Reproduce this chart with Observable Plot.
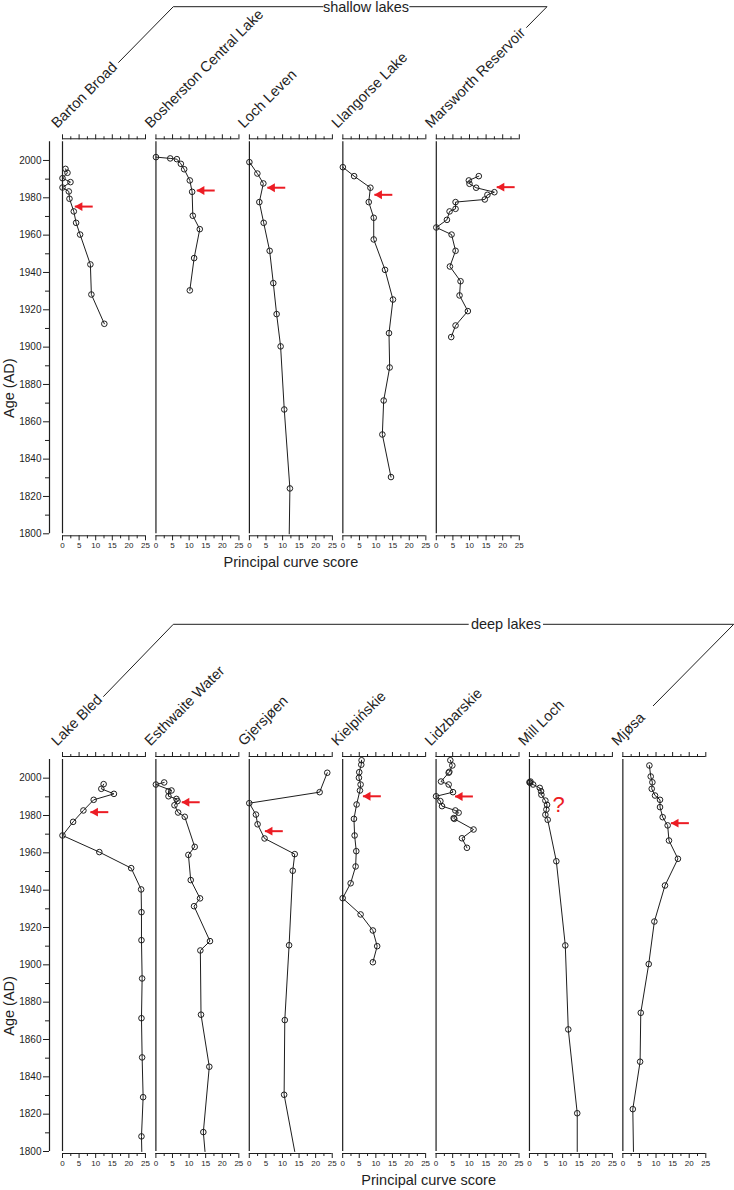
<!DOCTYPE html>
<html>
<head>
<meta charset="utf-8">
<script src="https://cdn.jsdelivr.net/npm/d3@7"></script>
<script src="https://cdn.jsdelivr.net/npm/@observablehq/plot@0.6"></script>
<style>
  html, body { margin: 0; padding: 0; background: #fff; }
  #wrap { width: 734px; height: 1190px; position: relative; font-family: "Liberation Sans", Arial, sans-serif; }
  #wrap svg { display: block; }
</style>
</head>
<body>
<div id="wrap"></div>
<script>
// ---------- categories ----------
const shallowLakes = ["Barton Broad", "Bosherston Central Lake", "Loch Leven", "Llangorse Lake", "Marsworth Reservoir"];
const deepLakes = ["Lake Bled", "Esthwaite Water", "Gjersjøen", "Kielpińskie", "Lidzbarskie", "Mill Loch", "Mjøsa"];

// ---------- tick values ----------
const scoreTicks = [0, 5, 10, 15, 20, 25];
const scoreMinorTicks = [2.5, 7.5, 12.5, 17.5, 22.5];
const ageTicks = [1800, 1820, 1840, 1860, 1880, 1900, 1920, 1940, 1960, 1980, 2000];
const ageMinorTicks = [1810, 1830, 1850, 1870, 1890, 1910, 1930, 1950, 1970, 1990];

// ---------- shallow lakes ----------
const bartonYear  = [1995.5, 1993.4, 1990.5, 1988.4, 1985.5, 1983.4, 1979.5, 1972.7, 1966.6, 1960.3, 1944.3, 1928.2, 1912.5];
const bartonScore = [0.9, 1.5, 0.0, 2.4, 0.0, 1.9, 2.1, 3.4, 4.1, 5.3, 8.4, 8.7, 12.6];

const boshYear  = [2001.8, 2001.1, 2000.7, 1998.2, 1995.3, 1989.3, 1983.2, 1970.4, 1963.2, 1947.7, 1930.4];
const boshScore = [0.0, 4.3, 6.3, 7.5, 8.5, 10.2, 10.9, 11.1, 13.2, 11.5, 10.2];

const levenYear  = [1999.1, 1993.0, 1987.7, 1977.7, 1966.6, 1951.6, 1934.3, 1917.7, 1900.4, 1866.6, 1824.3];
const levenScore = [0.0, 2.4, 4.2, 3.0, 4.3, 6.1, 7.2, 8.2, 9.4, 10.5, 12.2];

const llangorseYear  = [1996.4, 1991.6, 1985.4, 1977.7, 1969.3, 1957.7, 1941.4, 1925.5, 1907.5, 1889.1, 1871.4, 1853.2, 1830.4];
const llangorseScore = [0.0, 3.4, 8.3, 7.8, 9.3, 9.3, 12.7, 15.1, 13.9, 14.1, 12.3, 11.9, 14.5];

const marsworthYear  = [1991.6, 1989.3, 1987.5, 1985.4, 1983.0, 1981.6, 1979.1, 1977.7, 1974.1, 1972.7, 1968.2, 1964.1, 1960.3, 1951.6, 1943.2, 1935.3, 1927.7, 1919.3, 1911.6, 1905.4];
const marsworthScore = [12.8, 9.8, 10.0, 12.0, 17.5, 15.4, 14.6, 5.8, 5.8, 4.0, 3.2, 0.0, 4.6, 5.8, 4.1, 7.3, 7.0, 9.5, 5.8, 4.5];

// ---------- deep lakes ----------
const bledYear  = [1996.8, 1994.3, 1991.6, 1988.4, 1982.7, 1976.6, 1969.3, 1960.4, 1951.8, 1940.4, 1928.2, 1913.2, 1892.7, 1871.4, 1850.4, 1829.1, 1808.1];
const bledScore = [12.4, 11.7, 15.5, 9.4, 6.3, 3.2, 0.0, 11.1, 20.7, 23.7, 23.8, 23.8, 24.0, 23.8, 24.0, 24.3, 23.8];

const esthwaiteYear  = [1997.7, 1996.6, 1993.4, 1993.0, 1990.3, 1988.9, 1987.7, 1985.5, 1981.6, 1979.3, 1963.2, 1958.9, 1945.4, 1935.6, 1931.4, 1912.7, 1907.7, 1873.3, 1845.4, 1810.4];
const esthwaiteScore = [2.5, 0.0, 4.7, 3.8, 3.8, 6.2, 6.5, 5.6, 6.7, 8.7, 11.7, 9.8, 10.5, 13.3, 11.5, 16.3, 13.4, 13.6, 16.1, 14.3];

const gjersjoenYear  = [2002.9, 1992.5, 1986.6, 1980.5, 1975.3, 1967.7, 1959.3, 1950.4, 1910.5, 1870.4, 1830.4];
const gjersjoenScore = [23.5, 21.2, 0.0, 2.0, 2.5, 4.6, 13.7, 13.1, 12.0, 10.7, 10.5];

const kielpYear  = [2009.6, 2007.2, 2003.2, 2000.2, 1996.6, 1993.4, 1985.9, 1978.2, 1969.3, 1960.9, 1952.7, 1943.7, 1935.7, 1927.0, 1918.4, 1910.0, 1901.4];
const kielpScore = [5.7, 5.6, 5.0, 4.9, 5.4, 5.2, 4.2, 3.4, 3.6, 4.1, 3.9, 2.4, 0.0, 5.4, 9.1, 10.4, 9.1];

const lidzYear  = [2009.6, 2006.8, 2003.4, 2002.9, 1998.2, 1996.6, 1992.5, 1990.3, 1987.7, 1985.0, 1982.7, 1981.5, 1978.6, 1978.2, 1972.5, 1967.8, 1962.7];
const lidzScore = [4.3, 4.9, 4.0, 3.8, 1.5, 3.8, 5.1, 0.0, 1.3, 1.8, 5.8, 6.8, 5.3, 5.5, 11.3, 7.8, 9.3];

const millYear  = [1998.2, 1997.8, 1997.5, 1996.6, 1994.8, 1993.0, 1991.1, 1988.0, 1985.7, 1983.2, 1980.4, 1977.7, 1955.5, 1910.4, 1865.4, 1820.5];
const millScore = [0.3, 0.0, 0.2, 1.1, 3.1, 3.5, 3.6, 4.8, 5.3, 5.1, 4.8, 5.5, 8.1, 10.8, 11.7, 14.4];

const mjosaYear  = [2006.8, 2000.9, 1997.8, 1994.3, 1990.7, 1988.4, 1984.5, 1979.1, 1974.7, 1966.6, 1956.8, 1942.5, 1923.2, 1900.4, 1874.3, 1848.1, 1822.7];
const mjosaScore = [8.0, 8.4, 8.9, 8.7, 9.7, 11.2, 11.2, 12.0, 13.5, 13.9, 16.6, 12.7, 9.5, 7.8, 5.4, 5.2, 3.0];

// line continuation down to the base of the age axis (1800 AD), no sample marker
const tailLake  = ["Loch Leven", "Lake Bled", "Esthwaite Water", "Gjersjøen", "Mill Loch", "Mjøsa"];
const tailScore = [12.0, 23.9, 14.8, 13.7, 14.4, 3.2];

// red arrows (tip position)
const arrowLake  = ["Barton Broad", "Bosherston Central Lake", "Loch Leven", "Llangorse Lake", "Marsworth Reservoir", "Lake Bled", "Esthwaite Water", "Gjersjøen", "Kielpińskie", "Lidzbarskie", "Mjøsa"];
const arrowYear  = [1975.3, 1983.9, 1985.4, 1981.6, 1985.7, 1981.8, 1987.1, 1971.6, 1990.3, 1990.2, 1975.9];
const arrowScore = [3.7, 12.3, 5.4, 9.5, 18.2, 8.4, 7.8, 4.7, 6.1, 5.7, 14.5];

// red question mark
const queryLake  = ["Mill Loch"];
const queryYear  = [1985.4];
const queryScore = [8.8];

// ---------- build tables ----------
const seriesByLake = new Map([
  ["Barton Broad", [bartonYear, bartonScore]],
  ["Bosherston Central Lake", [boshYear, boshScore]],
  ["Loch Leven", [levenYear, levenScore]],
  ["Llangorse Lake", [llangorseYear, llangorseScore]],
  ["Marsworth Reservoir", [marsworthYear, marsworthScore]],
  ["Lake Bled", [bledYear, bledScore]],
  ["Esthwaite Water", [esthwaiteYear, esthwaiteScore]],
  ["Gjersjøen", [gjersjoenYear, gjersjoenScore]],
  ["Kielpińskie", [kielpYear, kielpScore]],
  ["Lidzbarskie", [lidzYear, lidzScore]],
  ["Mill Loch", [millYear, millScore]],
  ["Mjøsa", [mjosaYear, mjosaScore]]
]);

const ink = "#1e1e1e";
const red = "#ec1c24";
const FONT = "'Liberation Sans', Arial, Helvetica, sans-serif";
const AGE_MIN = 1800, AGE_MAX = 2010;

function makePanel(lakes, cfg) {
  const rows = lakes.flatMap(l => {
    const [ys, ss] = seriesByLake.get(l);
    return ys.map((y, i) => ({lake: l, year: y, score: ss[i]}));
  });
  const tails = tailLake.map((l, i) => ({lake: l, year: AGE_MIN, score: tailScore[i]})).filter(d => lakes.includes(d.lake));
  const lineRows = rows.concat(tails);
  const arrows = arrowLake.map((l, i) => ({lake: l, year: arrowYear[i], score: arrowScore[i]})).filter(d => lakes.includes(d.lake));
  const queries = queryLake.map((l, i) => ({lake: l, year: queryYear[i], score: queryScore[i]})).filter(d => lakes.includes(d.lake));

  const chart = Plot.plot({
    width: 734,
    height: cfg.height,
    marginLeft: 62,
    marginRight: cfg.marginRight,
    marginTop: cfg.marginTop,
    marginBottom: cfg.marginBottom,
    style: {fontFamily: FONT, fontSize: "10px", color: ink, background: "white", overflow: "visible"},
    x: {domain: [0, 25]},
    y: {domain: [AGE_MIN, AGE_MAX]},
    fx: {domain: lakes, paddingInner: 0.1118, paddingOuter: 0, round: false, axis: null, label: null},
    marks: [
      // zero line of each profile
      Plot.ruleX(lakes, {fx: d => d, x: () => 0, stroke: ink, strokeWidth: 1.2}),
      // age axis line
      Plot.ruleX([lakes[0]], {fx: d => d, x: () => 0, dx: -13, stroke: ink, strokeWidth: 1.2}),
      // score axis baselines (top & bottom)
      Plot.ruleY(lakes, {fx: d => d, y: () => AGE_MAX, x1: () => 0, x2: () => 25, dy: -3, stroke: ink, strokeWidth: 1}),
      Plot.ruleY(lakes, {fx: d => d, y: () => AGE_MIN, x1: () => 0, x2: () => 25, dy: 2, stroke: ink, strokeWidth: 1}),
      Plot.axisX({anchor: "top", ticks: scoreTicks, tickSize: 5, dy: -3, tickFormat: () => "", label: null, stroke: ink}),
      Plot.axisX({anchor: "top", ticks: scoreMinorTicks, tickSize: 3, dy: -3, tickFormat: () => "", label: null, stroke: ink}),
      Plot.axisX({anchor: "bottom", ticks: scoreTicks, tickSize: 5, dy: 2, tickPadding: 2, fontSize: 8, tickFormat: d => String(d), label: null, stroke: ink, fill: ink}),
      Plot.axisX({anchor: "bottom", ticks: scoreMinorTicks, tickSize: 3, dy: 2, tickFormat: () => "", label: null, stroke: ink}),
      Plot.axisY({ticks: ageTicks, tickSize: 6, dx: -13, tickPadding: 2, fontSize: 10, tickFormat: d => String(d), label: null, stroke: ink, fill: ink}),
      Plot.axisY({ticks: ageMinorTicks, tickSize: 4, dx: -13, tickFormat: () => "", label: null, stroke: ink}),
      // profiles
      Plot.line(lineRows, {fx: "lake", x: "score", y: "year", z: "lake", stroke: ink, strokeWidth: 1}),
      Plot.dot(rows, {fx: "lake", x: "score", y: "year", r: 2.8, stroke: ink, strokeWidth: 1, fill: "none"}),
      // red arrows
      Plot.link(arrows, {fx: "lake", x1: d => d.score, x2: d => d.score + 5.4, y1: "year", y2: "year", stroke: red, strokeWidth: 2}),
      Plot.dot(arrows, {fx: "lake", x: "score", y: "year", symbol: "triangle", rotate: -90, r: 3.3, dx: 5, fill: red, stroke: "none"}),
      Plot.text(queries, {fx: "lake", x: "score", y: "year", text: () => "?", fill: red, fontSize: 22, textAnchor: "middle", lineAnchor: "middle"}),
      // lake names
      Plot.text(lakes, {fx: d => d, text: d => d, frameAnchor: "top-left", rotate: -45, textAnchor: "start", lineAnchor: "bottom", dx: -5.3, dy: -13, fontSize: 14.6, fill: ink}),
      // axis titles
      Plot.text([lakes[0]], {fx: d => d, y: () => 1878, text: () => "Age (AD)", frameAnchor: "left", rotate: -90, textAnchor: "middle", lineAnchor: "middle", dx: -53, fontSize: 14.5, fill: ink}),
      Plot.text([cfg.titleLake], {fx: d => d, text: () => "Principal curve score", frameAnchor: "bottom", textAnchor: "middle", lineAnchor: "bottom", dx: cfg.titleDx, dy: 33.5, fontSize: 14.5, fill: ink})
    ]
  });

  // group bracket above the lake names
  const b = cfg.bracket;
  const svg = d3.select(chart);
  svg.append("path")
    .attr("fill", "none").attr("stroke", ink).attr("stroke-width", 1)
    .attr("d", `M${b.x1},${b.y1}L${b.xk},${b.yTop}L${b.gapL},${b.yTop}M${b.gapR},${b.yTop}L${b.xr},${b.yTop}L${b.x2},${b.y2}`);
  svg.append("text")
    .attr("x", b.labelX).attr("y", b.yTop).attr("dy", "0.35em")
    .attr("text-anchor", "middle").attr("font-size", 14.5).attr("font-family", FONT).attr("fill", ink)
    .text(b.label);
  return chart;
}

const wrap = document.getElementById("wrap");
wrap.appendChild(makePanel(shallowLakes, {
  height: 600, marginTop: 141.3, marginBottom: 66.7, marginRight: 215.2,
  titleLake: "Loch Leven", titleDx: 0,
  bracket: {x1: 118.3, y1: 62.7, xk: 173.3, yTop: 6.7, gapL: 323.3, gapR: 409.3, xr: 547, x2: 526.3, y2: 27.7, label: "shallow lakes", labelX: 366}
}));
wrap.appendChild(makePanel(deepLakes, {
  height: 590, marginTop: 159, marginBottom: 39, marginRight: 28.7,
  titleLake: "Kielpińskie", titleDx: 44.5,
  bracket: {x1: 103.3, y1: 96.7, xk: 173.3, yTop: 24.3, gapL: 468.7, gapR: 543, xr: 733.7, x2: 653, y2: 106, label: "deep lakes", labelX: 506}
}));
</script>
</body>
</html>
